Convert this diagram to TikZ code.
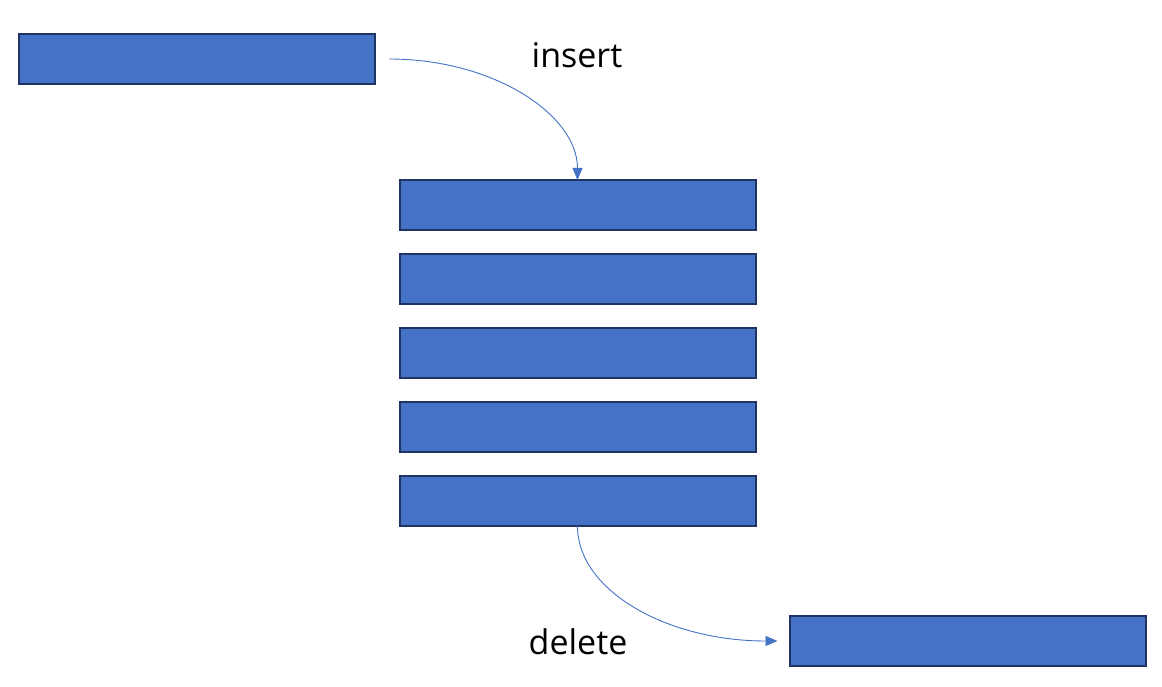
\documentclass[tikz,border=0pt]{standalone}
\usepackage{fontspec}
\setmainfont{Open Sans}
\usetikzlibrary{arrows.meta,positioning}
\definecolor{boxfill}{HTML}{4472C4}
\definecolor{boxedge}{HTML}{1F3464}
\definecolor{linkblue}{HTML}{4472C4}
\begin{document}
\begin{tikzpicture}[x=1pt,y=-1pt,
  block/.style={draw=boxedge,line width=2pt,fill=boxfill,minimum width=356pt,minimum height=50pt,inner sep=0pt,outer sep=0pt},
  link/.style={draw=linkblue,line width=0.9pt,-{Triangle[length=12pt,width=10pt]}},
  label/.style={font=\fontsize{34}{40}\selectfont,anchor=base,inner sep=0pt}]
  \useasboundingbox (0,0) rectangle (1162,687);
  % element waiting to be pushed
  \node[block] (new) at (197,59) {};
  % the stack
  \node[block] (s1) at (577.5,205) {};
  \node[block] (s2) at (577.5,279) {};
  \node[block] (s3) at (577.5,353) {};
  \node[block] (s4) at (577.5,427) {};
  \node[block] (s5) at (577.5,501) {};
  % element that has been removed
  \node[block] (old) at (967.5,641) {};
  % operation labels
  \node[label] (ins) at (577,68) {insert};
  \node[label] (del) at (578,654) {delete};
  % arrows
  \coordinate (insStart) at ([xshift=14pt]new.east);
  \coordinate (delEnd) at ([xshift=-12pt]old.west);
  \draw[link] (insStart) .. controls ([xshift=105pt]insStart) and ([yshift=65pt]s1.north) .. (s1.north);
  \draw[link] (s5.south) .. controls ([yshift=-65pt]s5.south) and ([xshift=-110pt]delEnd) .. (delEnd);
\end{tikzpicture}
\end{document}
